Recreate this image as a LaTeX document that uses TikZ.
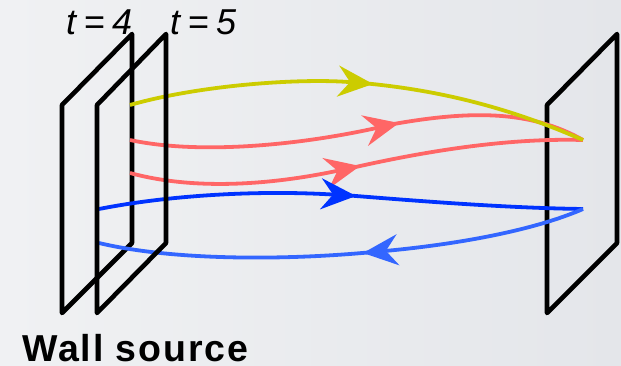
\documentclass[tikz,border=0pt]{standalone}
\usepackage{fontspec}
\setmainfont{Liberation Sans}
\newfontfamily\wallfont[LetterSpace=5]{Liberation Sans}
\usepackage{xcolor}
\usetikzlibrary{arrows.meta,positioning}
\definecolor{raylime}{HTML}{CCCC00}
\definecolor{raypink}{HTML}{FF6666}
\definecolor{raydeep}{HTML}{0033FF}
\definecolor{raysky}{HTML}{3366FF}
\definecolor{bgleft}{HTML}{F0F1F3}
\definecolor{bgright}{HTML}{E4E6EA}

\begin{document}
\begin{tikzpicture}[
    x=1pt, y=-1pt,
    wall/.style={draw=black, line width=4.6pt, line join=round},
    ray/.style={line width=3.8pt},
    onward/.style={ray, shorten <=-12pt},
    tipped/.style={ray, -{Stealth[length=35pt, width=31pt, inset=12pt]}},
    tlabel/.style={inner sep=0pt, anchor=base west, font={\fontsize{36}{36}\selectfont\itshape\spaceskip 7.5pt\relax}},
  ]
    \fill[left color=bgleft, right color=bgright] (0,0) rectangle (621,366);
    \useasboundingbox (0,0) rectangle (621,366);

    % far wall and the first source wall
    \draw[wall] (547,105) -- (617,34) -- (617,243) -- (547,313) -- cycle;
    \draw[wall] (62,105) -- (132,34) -- (132,243) -- (62,313) -- cycle;

    \coordinate (ylwstart) at (130,105);
    \coordinate (ylwmid) at (373,84);
    \coordinate (redastart) at (130,140);
    \coordinate (redamid) at (399,123);
    \coordinate (redbstart) at (130,173);
    \coordinate (redbmid) at (360,166);
    \coordinate (hit) at (583,140);
    \coordinate (bluastart) at (99,209);
    \coordinate (bluamid) at (356,196);
    \coordinate (bluhit) at (583,209);
    \coordinate (blubmid) at (363,253);
    \coordinate (blubend) at (99,243);

    \draw[onward, raypink] (redamid) .. controls (470,110) and (530,110) .. (hit);
    \draw[tipped, raypink] (redastart) .. controls (200,155) and (300,145) .. (redamid);
    \draw[onward, raypink] (redbmid) .. controls (430,150) and (510,138) .. (hit);
    \draw[tipped, raypink] (redbstart) .. controls (200,192) and (280,183) .. (redbmid);
    \draw[onward, raylime] (ylwmid) .. controls (440,90) and (510,108) .. (hit);
    \draw[tipped, raylime] (ylwstart) .. controls (200,85) and (300,78) .. (ylwmid);
    \draw[onward, raydeep] (bluamid) .. controls (430,202) and (510,208) .. (bluhit);
    \draw[tipped, raydeep] (bluastart) .. controls (170,195) and (260,190) .. (bluamid);
    \draw[tipped, raysky] (bluhit) .. controls (530,232) and (450,245) .. (blubmid);
    \draw[onward, raysky] (blubmid) .. controls (280,261) and (170,260) .. (blubend);

    % second source wall sits over the rays
    \draw[wall] (97,105) -- (166,34) -- (166,243) -- (97,313) -- cycle;

    \node[tlabel] (tfour) at (66,35) {t = 4};
    \node[tlabel] (tfive) at (170,35) {t = 5};
    \node[inner sep=0pt, anchor=base west, font=\fontsize{37.5}{37.5}\selectfont\wallfont\bfseries] (wallsrc) at (22,361.5) {Wall source};
  \end{tikzpicture}
\end{document}
